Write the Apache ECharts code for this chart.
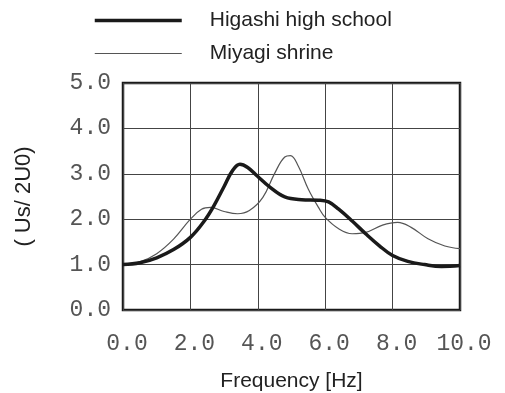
<!DOCTYPE html>
<html>
<head>
<meta charset="utf-8">
<style>
  html, body { margin: 0; padding: 0; background: #fff; }
  #chart { width: 505px; height: 393px; }
</style>
</head>
<body>
<div id="chart"></div>
<script src="https://cdn.jsdelivr.net/npm/echarts@6/dist/echarts.min.js"></script>
<script>
// values
var seriesNames = ['Higashi high school', 'Miyagi shrine'];

var higashiFreq = [0, 0.5, 1.0, 1.5, 2.0, 2.4, 2.7, 3.0, 3.25, 3.47, 3.7, 4.0, 4.35, 4.8, 5.3, 5.8, 6.1, 6.4, 6.8, 7.2, 7.6, 8.0, 8.45, 8.95, 9.45, 10];
var higashiAmp  = [1.0, 1.04, 1.15, 1.33, 1.60, 1.95, 2.30, 2.72, 3.07, 3.21, 3.14, 2.94, 2.71, 2.49, 2.43, 2.42, 2.38, 2.22, 1.96, 1.68, 1.42, 1.20, 1.07, 1.0, 0.96, 0.98];

var miyagiFreq = [0, 0.5, 1.0, 1.5, 2.0, 2.33, 2.6, 3.0, 3.4, 3.75, 4.15, 4.5, 4.8, 4.97, 5.2, 5.5, 5.8, 6.0, 6.4, 6.8, 7.2, 7.7, 8.15, 8.55, 9.05, 9.55, 10];
var miyagiAmp  = [1.0, 1.06, 1.24, 1.56, 2.0, 2.22, 2.26, 2.17, 2.12, 2.19, 2.48, 3.01, 3.37, 3.40, 3.17, 2.66, 2.26, 2.04, 1.79, 1.68, 1.71, 1.87, 1.93, 1.82, 1.57, 1.41, 1.35];

function pairs(xs, ys) {
    return xs.map(function (x, i) { return [x, ys[i]]; });
}

var monoFont = '"Liberation Mono", "DejaVu Sans Mono", monospace';
var sansFont = '"Liberation Sans", Arial, sans-serif';

var myChart = echarts.init(document.getElementById('chart'), null, {renderer: 'canvas'});
var option = {
    backgroundColor: '#fff',
    animation: false,
    legend: {
        orient: 'vertical',
        left: 88,
        top: 5,
        itemWidth: 87,
        itemHeight: 16,
        itemGap: 12,
        itemStyle: {opacity: 0},
        textStyle: {
            fontFamily: sansFont,
            fontSize: 21,
            color: '#222',
            padding: [0, 0, 0, 23]
        },
        data: [
            {name: seriesNames[0], lineStyle: {width: 3.5, color: '#1a1a1a'}},
            {name: seriesNames[1], lineStyle: {width: 1.2, color: '#555'}}
        ]
    },
    grid: {
        left: 123,
        right: 45,
        top: 83,
        bottom: 83,
        containLabel: false,
        outerBoundsMode: 'none',
        show: true,
        borderColor: '#1a1a1a',
        borderWidth: 2.5
    },
    xAxis: {
        type: 'value',
        min: 0,
        max: 10,
        interval: 2,
        name: 'Frequency [Hz]',
        nameLocation: 'middle',
        nameGap: 61,
        nameTextStyle: {fontFamily: sansFont, fontSize: 21, color: '#222'},
        axisLine: {show: false},
        axisTick: {show: false},
        axisLabel: {
            margin: 22,
            fontFamily: monoFont,
            fontSize: 23,
            color: '#555',
            padding: [0, 0, 0, 8],
            formatter: function (v) { return v.toFixed(1); }
        },
        splitLine: {lineStyle: {color: '#444', width: 1}}
    },
    yAxis: {
        type: 'value',
        min: 0,
        max: 5,
        interval: 1,
        name: '( Us/ 2U0)',
        nameLocation: 'middle',
        nameRotate: 90,
        nameGap: 88,
        nameTextStyle: {fontFamily: sansFont, fontSize: 22, color: '#222'},
        axisLine: {show: false},
        axisTick: {show: false},
        axisLabel: {
            margin: 12,
            fontFamily: monoFont,
            fontSize: 23,
            color: '#555',
            formatter: function (v) { return v.toFixed(1); }
        },
        splitLine: {lineStyle: {color: '#444', width: 1}}
    },
    series: [
        {
            name: seriesNames[0],
            type: 'line',
            smooth: 0.4,
            symbol: 'none',
            lineStyle: {color: '#1a1a1a', width: 3.5},
            itemStyle: {color: '#1a1a1a'},
            z: 3,
            data: pairs(higashiFreq, higashiAmp)
        },
        {
            name: seriesNames[1],
            type: 'line',
            smooth: 0.4,
            symbol: 'none',
            lineStyle: {color: '#555', width: 1.2},
            itemStyle: {color: '#555'},
            z: 2,
            data: pairs(miyagiFreq, miyagiAmp)
        }
    ]
};
myChart.setOption(option);
</script>
</body>
</html>
